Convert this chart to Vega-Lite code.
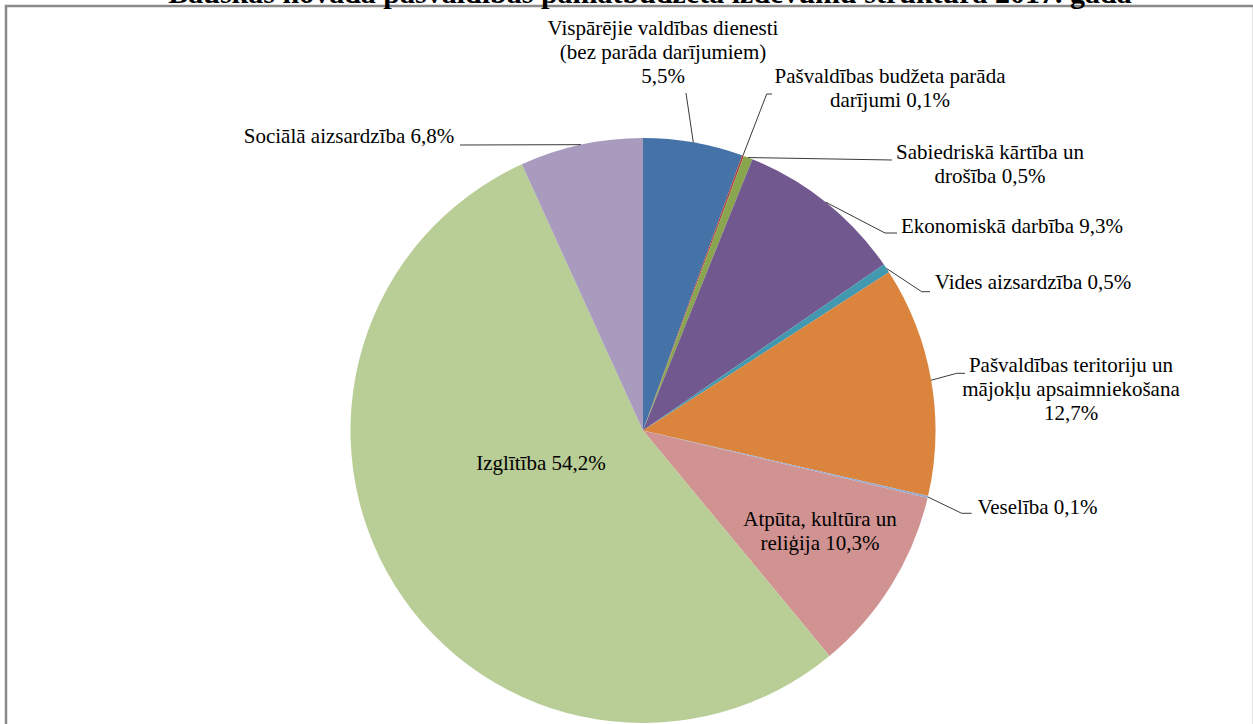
{
  "$schema": "https://vega.github.io/schema/vega-lite/v6.json",
  "autosize": {"type": "none"},
  "width": 1248,
  "height": 740,
  "padding": {"left": 6, "top": 6, "right": 0, "bottom": 0},
  "background": "white",
  "config": {
    "view": {"stroke": "#8a8a8a", "strokeWidth": 2.5},
    "font": "Liberation Serif"
  },
  "title": {
    "text": "Bauskas novada pašvaldības pamatbudžeta izdevumu struktūra 2017. gadā",
    "font": "Liberation Serif",
    "fontSize": 30,
    "fontWeight": "bold",
    "color": "#000000",
    "anchor": "middle",
    "offset": 2,
    "dy": 5,
    "dx": 20
  },
  "data": {
    "values": [
      {"nr": 1, "kategorija": "Vispārējie valdības dienesti (bez parāda darījumiem)", "procenti": 5.5, "etikete": "Vispārējie valdības dienesti\n(bez parāda darījumiem)\n5,5%"},
      {"nr": 2, "kategorija": "Pašvaldības budžeta parāda darījumi", "procenti": 0.1, "etikete": "Pašvaldības budžeta parāda\ndarījumi 0,1%"},
      {"nr": 3, "kategorija": "Sabiedriskā kārtība un drošība", "procenti": 0.5, "etikete": "Sabiedriskā kārtība un\ndrošība 0,5%"},
      {"nr": 4, "kategorija": "Ekonomiskā darbība", "procenti": 9.3, "etikete": "Ekonomiskā darbība 9,3%"},
      {"nr": 5, "kategorija": "Vides aizsardzība", "procenti": 0.5, "etikete": "Vides aizsardzība 0,5%"},
      {"nr": 6, "kategorija": "Pašvaldības teritoriju un mājokļu apsaimniekošana", "procenti": 12.7, "etikete": "Pašvaldības teritoriju un\nmājokļu apsaimniekošana\n12,7%"},
      {"nr": 7, "kategorija": "Veselība", "procenti": 0.1, "etikete": "Veselība 0,1%"},
      {"nr": 8, "kategorija": "Atpūta, kultūra un reliģija", "procenti": 10.3, "etikete": "Atpūta, kultūra un\nreliģija 10,3%"},
      {"nr": 9, "kategorija": "Izglītība", "procenti": 54.2, "etikete": "Izglītība 54,2%"},
      {"nr": 10, "kategorija": "Sociālā aizsardzība", "procenti": 6.8, "etikete": "Sociālā aizsardzība 6,8%"}
    ]
  },
  "transform": [
    {"window": [{"op": "sum", "field": "procenti", "as": "kumul"}], "sort": [{"field": "nr"}], "frame": [null, 0]},
    {"joinaggregate": [{"op": "sum", "field": "procenti", "as": "kopa"}]},
    {"calculate": "2*PI*(datum.kumul - datum.procenti/2)/datum.kopa", "as": "vidus"},
    {"calculate": "292.5*sin(datum.vidus)", "as": "malaX"},
    {"calculate": "292.5*cos(datum.vidus)", "as": "malaY"},
    {"calculate": "[43,123.7,249,242,278.7,313.7,318.7,0,0,-183][datum.nr-1]", "as": "lauzX"},
    {"calculate": "[337.5,336.5,270.5,197.5,138.8,57.2,-82.8,0,0,285.5][datum.nr-1]", "as": "lauzY"},
    {"calculate": "[43,129,249,254,287,322,328.7,0,0,-183][datum.nr-1]", "as": "beigX"},
    {"calculate": "[20,247,347,369,390,428,394.5,177,-102,-294][datum.nr-1]", "as": "tekstsX"},
    {"calculate": "[395.5,347.5,271.5,197.5,141.5,58.5,-83,-95.5,-39.5,287.2][datum.nr-1]", "as": "tekstsY"}
  ],
  "layer": [
    {
      "mark": {"type": "arc", "outerRadius": 292.5},
      "encoding": {
        "x": {"datum": 0, "type": "quantitative", "scale": {"domain": [-637, 611], "nice": false, "zero": false}, "axis": null},
        "y": {"datum": 0, "type": "quantitative", "scale": {"domain": [-315.5, 424.5], "nice": false, "zero": false}, "axis": null},
        "theta": {"field": "procenti", "type": "quantitative", "stack": true},
        "order": {"field": "nr", "type": "quantitative"},
        "color": {
          "field": "kategorija",
          "type": "nominal",
          "legend": null,
          "scale": {
            "domain": [
              "Vispārējie valdības dienesti (bez parāda darījumiem)",
              "Pašvaldības budžeta parāda darījumi",
              "Sabiedriskā kārtība un drošība",
              "Ekonomiskā darbība",
              "Vides aizsardzība",
              "Pašvaldības teritoriju un mājokļu apsaimniekošana",
              "Veselība",
              "Atpūta, kultūra un reliģija",
              "Izglītība",
              "Sociālā aizsardzība"
            ],
            "range": ["#4572A7", "#AA4643", "#89A54E", "#71588F", "#4198AF", "#DB843D", "#93A9CF", "#D19392", "#B9CD96", "#A99BBD"]
          }
        }
      }
    },
    {
      "transform": [{"filter": "datum.nr != 8 && datum.nr != 9"}],
      "mark": {"type": "rule", "color": "#3a3a3a", "strokeWidth": 1},
      "encoding": {
        "x": {"field": "malaX", "type": "quantitative"},
        "y": {"field": "malaY", "type": "quantitative"},
        "x2": {"field": "lauzX"},
        "y2": {"field": "lauzY"}
      }
    },
    {
      "transform": [{"filter": "datum.nr != 8 && datum.nr != 9"}],
      "mark": {"type": "rule", "color": "#3a3a3a", "strokeWidth": 1},
      "encoding": {
        "x": {"field": "lauzX", "type": "quantitative"},
        "y": {"field": "lauzY", "type": "quantitative"},
        "x2": {"field": "beigX"},
        "y2": {"field": "lauzY"}
      }
    },
    {
      "mark": {"type": "text", "align": "center", "baseline": "alphabetic", "lineBreak": "\n", "lineHeight": 24, "fontSize": 21, "font": "Liberation Serif", "color": "#000000"},
      "encoding": {
        "x": {"field": "tekstsX", "type": "quantitative"},
        "y": {"field": "tekstsY", "type": "quantitative"},
        "text": {"field": "etikete", "type": "nominal"}
      }
    }
  ]
}
